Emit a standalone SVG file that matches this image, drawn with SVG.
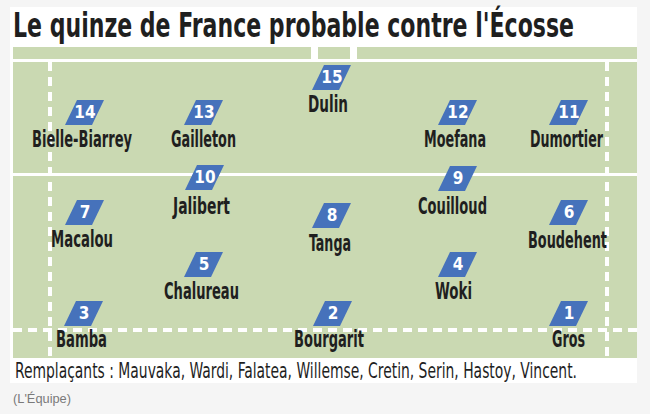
<svg xmlns="http://www.w3.org/2000/svg" xmlns:xlink="http://www.w3.org/1999/xlink" width="650" height="414" viewBox="0 0 650 414">
<style>
.cond{font-family:"Liberation Sans Narrow","DejaVu Sans Condensed","Liberation Sans",sans-serif;font-stretch:condensed}
.title{font-size:34px;font-weight:bold;fill:#1f1f1f}
.name{font-size:23px;font-weight:bold;fill:#1f1f1f;text-anchor:middle}
.num{font-size:17px;font-weight:bold;fill:#ffffff;text-anchor:middle}
.badge{fill:#4672bb}
.subs{font-size:21px;fill:#1f1f1f}
.src{font-family:"Liberation Sans",Arial,sans-serif;font-size:13px;fill:#7a7a7a}
.green{fill:#cad9b2}
.wline{stroke:#ffffff;stroke-width:3;fill:none}
.dash{stroke:#ffffff;stroke-width:4;fill:none;stroke-dasharray:9 6}
</style>
<defs>
<polygon id="b" points="12,0 39,0 27,25 0,25"/>
</defs>
<rect x="0" y="0" width="650" height="414" fill="#f5f5f5"/>
<rect x="10" y="7" width="627" height="376" fill="#ffffff"/>
<text class="cond title" x="13" y="37" textLength="561" lengthAdjust="spacingAndGlyphs">Le quinze de France probable contre l'Écosse</text>
<g id="field">
<rect class="green" x="13" y="47" width="298" height="12"/>
<rect class="green" x="318" y="47" width="32" height="12"/>
<rect class="green" x="357" y="47" width="280" height="12"/>
<rect class="green" x="13" y="62" width="624" height="296"/>
<line class="wline" x1="13" y1="174.5" x2="637" y2="174.5"/>
<line class="dash" x1="13" y1="330" x2="637" y2="330"/>
<line class="dash" x1="50" y1="62" x2="50" y2="358"/>
<line class="dash" x1="607" y1="62" x2="607" y2="358"/>
</g>
<g id="connectors"></g>
<g id="p15"><use href="#b" class="badge" x="312" y="65"/><text class="cond num" x="332" y="83">15</text><text class="cond name" x="328" y="112" textLength="40" lengthAdjust="spacingAndGlyphs">Dulin</text></g>
<g id="p14"><use href="#b" class="badge" x="65" y="100"/><text class="cond num" x="85" y="118">14</text><text class="cond name" x="82" y="147" textLength="100" lengthAdjust="spacingAndGlyphs">Bielle-Biarrey</text></g>
<g id="p13"><use href="#b" class="badge" x="184" y="100"/><text class="cond num" x="204" y="118">13</text><text class="cond name" x="203.5" y="147" textLength="65" lengthAdjust="spacingAndGlyphs">Gailleton</text></g>
<g id="p12"><use href="#b" class="badge" x="438" y="100"/><text class="cond num" x="458" y="118">12</text><text class="cond name" x="455" y="147" textLength="62" lengthAdjust="spacingAndGlyphs">Moefana</text></g>
<g id="p11"><use href="#b" class="badge" x="549" y="100"/><text class="cond num" x="569" y="118">11</text><text class="cond name" x="566.5" y="147" textLength="73" lengthAdjust="spacingAndGlyphs">Dumortier</text></g>
<g id="p10"><use href="#b" class="badge" x="185" y="165"/><text class="cond num" x="205" y="183">10</text><text class="cond name" x="201.5" y="214" textLength="57" lengthAdjust="spacingAndGlyphs">Jalibert</text></g>
<g id="p9"><use href="#b" class="badge" x="438" y="166"/><text class="cond num" x="458" y="184">9</text><text class="cond name" x="452.5" y="214" textLength="69" lengthAdjust="spacingAndGlyphs">Couilloud</text></g>
<g id="p7"><use href="#b" class="badge" x="65" y="200"/><text class="cond num" x="85" y="218">7</text><text class="cond name" x="82" y="247" textLength="62" lengthAdjust="spacingAndGlyphs">Macalou</text></g>
<g id="p8"><use href="#b" class="badge" x="312" y="203"/><text class="cond num" x="332" y="221">8</text><text class="cond name" x="330" y="251" textLength="42" lengthAdjust="spacingAndGlyphs">Tanga</text></g>
<g id="p6"><use href="#b" class="badge" x="549" y="200"/><text class="cond num" x="569" y="218">6</text><text class="cond name" x="567.5" y="248" textLength="79" lengthAdjust="spacingAndGlyphs">Boudehent</text></g>
<g id="p5"><use href="#b" class="badge" x="184" y="252"/><text class="cond num" x="204" y="270">5</text><text class="cond name" x="201.5" y="299" textLength="75" lengthAdjust="spacingAndGlyphs">Chalureau</text></g>
<g id="p4"><use href="#b" class="badge" x="438" y="252"/><text class="cond num" x="458" y="270">4</text><text class="cond name" x="453.5" y="299" textLength="37" lengthAdjust="spacingAndGlyphs">Woki</text></g>
<g id="p3"><use href="#b" class="badge" x="64" y="301"/><text class="cond num" x="84" y="319">3</text><text class="cond name" x="81.5" y="347" textLength="51" lengthAdjust="spacingAndGlyphs">Bamba</text></g>
<g id="p2"><use href="#b" class="badge" x="313" y="301"/><text class="cond num" x="333" y="319">2</text><text class="cond name" x="329" y="347" textLength="70" lengthAdjust="spacingAndGlyphs">Bourgarit</text></g>
<g id="p1"><use href="#b" class="badge" x="549" y="301"/><text class="cond num" x="569" y="319">1</text><text class="cond name" x="568.5" y="347" textLength="33" lengthAdjust="spacingAndGlyphs">Gros</text></g>
<text class="cond subs" x="15" y="378" textLength="562" lengthAdjust="spacingAndGlyphs">Remplaçants : Mauvaka, Wardi, Falatea, Willemse, Cretin, Serin, Hastoy, Vincent.</text>
<text class="src" x="13" y="403" textLength="58" lengthAdjust="spacingAndGlyphs">(L'Équipe)</text>
</svg>
